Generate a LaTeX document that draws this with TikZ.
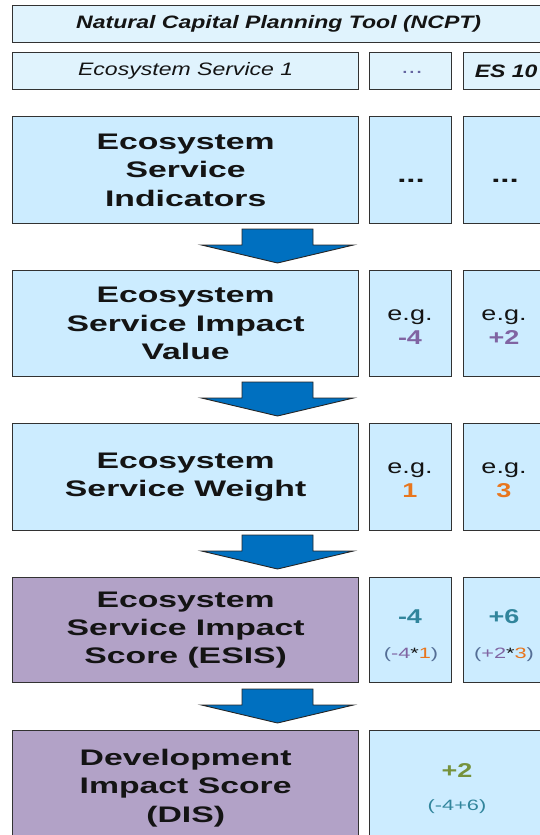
\documentclass[tikz,border=0pt]{standalone}
\usepackage{fontspec}
\setmainfont{Liberation Sans}
\newfontfamily\fbig[FakeStretch=1.5]{Liberation Sans}
\newfontfamily\fsm[FakeStretch=1.28]{Liberation Sans}
\newfontfamily\feg[FakeStretch=1.35]{Liberation Sans}
\newfontfamily\fnum[FakeStretch=1.45]{Liberation Sans}
\definecolor{lightbox}{RGB}{204,236,255}
\definecolor{topbox}{RGB}{224,243,253}
\definecolor{purplebox}{RGB}{178,162,199}
\definecolor{arrblue}{RGB}{0,112,192}
\definecolor{edgec}{RGB}{50,50,50}
\definecolor{txt}{RGB}{20,20,20}
\definecolor{vio}{RGB}{128,100,162}
\definecolor{ora}{RGB}{232,118,30}
\definecolor{tealc}{RGB}{49,133,156}
\definecolor{olivec}{RGB}{118,146,60}
\definecolor{parenc}{RGB}{84,110,150}
\definecolor{dotc}{RGB}{100,100,160}
\tikzset{
  box/.style={draw=edgec, line width=1.3pt, anchor=north west, inner sep=0pt, align=center, text=txt},
  lbox/.style={box, fill=lightbox},
  pbox/.style={box, fill=purplebox},
  tbox/.style={box, fill=topbox},
  bigtxt/.style={font={\fbig\bfseries\fontsize{22.5}{28.3}\selectfont}},
  smtxt/.style={font={\fsm\fontsize{18}{20}\selectfont}},
  egtxt/.style={anchor=base, inner sep=0pt, text=txt, font={\feg\fontsize{20}{24}\selectfont}},
  numtxt/.style={anchor=base, inner sep=0pt, font={\feg\bfseries\fontsize{20}{24}\selectfont}},
  formtxt/.style={anchor=base, inner sep=0pt, font={\fnum\fontsize{15}{18}\selectfont}},
  arrline/.style={draw=black!85, line width=0.9pt, fill=arrblue, line join=miter},
  blockarr/.pic={\path[arrline] (-35.5,0) -- (35.5,0) -- (35.5,16) -- (76,16) -- (0,34) -- (-76,16) -- (-35.5,16) -- cycle;}
}
\begin{document}
\begin{tikzpicture}[x=1pt,y=-1pt]
\useasboundingbox (0,0) rectangle (540,835);
% header rows
\node[tbox, minimum width=532pt, minimum height=37pt, smtxt] (ncpt) at (12,5) {\bfseries\itshape Natural Capital Planning Tool (NCPT)};
\node[tbox, minimum width=346pt, minimum height=37pt, smtxt] (es1) at (12,52) {\itshape Ecosystem Service 1};
\node[tbox, minimum width=82pt, minimum height=37pt] (esd) at (369,52) {};
\node[anchor=base, inner sep=0pt, text=dotc, font={\fsm\fontsize{20}{20}\selectfont}] (esdt) at (412,73) {...};
\node[tbox, minimum width=85pt, minimum height=37pt, smtxt] (es10) at (463,52) {\bfseries\itshape ES 10};
% indicators row
\node[lbox, minimum width=346pt, minimum height=107pt, bigtxt] (ind) at (12,116) {Ecosystem\\Service\\Indicators};
\node[lbox, minimum width=82pt, minimum height=107pt] (ind2) at (369,116) {};
\node[lbox, minimum width=85pt, minimum height=107pt] (ind3) at (463,116) {};
\node[anchor=base, inner sep=0pt, text=txt, font={\fbig\bfseries\fontsize{22}{22}\selectfont}] (ind2t) at (411,182) {...};
\node[anchor=base, inner sep=0pt, text=txt, font={\fbig\bfseries\fontsize{22}{22}\selectfont}] (ind3t) at (505,182) {...};
\pic at (277.5,229) {blockarr};
% impact value row
\node[lbox, minimum width=346pt, minimum height=106pt, bigtxt] (imp) at (12,270) {Ecosystem\\Service Impact\\Value};
\node[lbox, minimum width=82pt, minimum height=106pt] (imp2) at (369,270) {};
\node[lbox, minimum width=85pt, minimum height=106pt] (imp3) at (463,270) {};
\node[egtxt] (imp2a) at (410,320) {e.g.};
\node[numtxt, text=vio] (imp2b) at (410,344) {-4};
\node[egtxt] (imp3a) at (504,320) {e.g.};
\node[numtxt, text=vio] (imp3b) at (504,344) {+2};
\pic at (277.5,382) {blockarr};
% weight row
\node[lbox, minimum width=346pt, minimum height=107pt, bigtxt] (wt) at (12,423) {Ecosystem\\Service Weight};
\node[lbox, minimum width=82pt, minimum height=107pt] (wt2) at (369,423) {};
\node[lbox, minimum width=85pt, minimum height=107pt] (wt3) at (463,423) {};
\node[egtxt] (wt2a) at (410,473) {e.g.};
\node[numtxt, text=ora] (wt2b) at (410,497) {1};
\node[egtxt] (wt3a) at (504,473) {e.g.};
\node[numtxt, text=ora] (wt3b) at (504,497) {3};
\pic at (277.5,535) {blockarr};
% ESIS row
\node[pbox, minimum width=346pt, minimum height=105pt, bigtxt] (esis) at (12,577) {Ecosystem\\Service Impact\\Score (ESIS)};
\node[lbox, minimum width=82pt, minimum height=105pt] (esis2) at (369,577) {};
\node[lbox, minimum width=85pt, minimum height=105pt] (esis3) at (463,577) {};
\node[numtxt, text=tealc] (esis2a) at (410,623) {-4};
\node[formtxt] (esis2b) at (411,658) {\textcolor{parenc}{(}\textcolor{vio}{-4}\textcolor{txt}{*}\textcolor{ora}{1}\textcolor{parenc}{)}};
\node[numtxt, text=tealc] (esis3a) at (504,623) {+6};
\node[formtxt] (esis3b) at (504,658) {\textcolor{parenc}{(}\textcolor{vio}{+2}\textcolor{txt}{*}\textcolor{ora}{3}\textcolor{parenc}{)}};
\pic at (277.5,689) {blockarr};
% DIS row
\node[pbox, minimum width=346pt, minimum height=115pt, bigtxt] (dis) at (12,730) {Development\\Impact Score\\(DIS)};
\node[lbox, minimum width=179pt, minimum height=115pt] (dis2) at (369,730) {};
\node[numtxt, text=olivec] (dis2a) at (457,777) {+2};
\node[formtxt, text=tealc] (dis2b) at (457,810) {(-4+6)};
\end{tikzpicture}
\end{document}
